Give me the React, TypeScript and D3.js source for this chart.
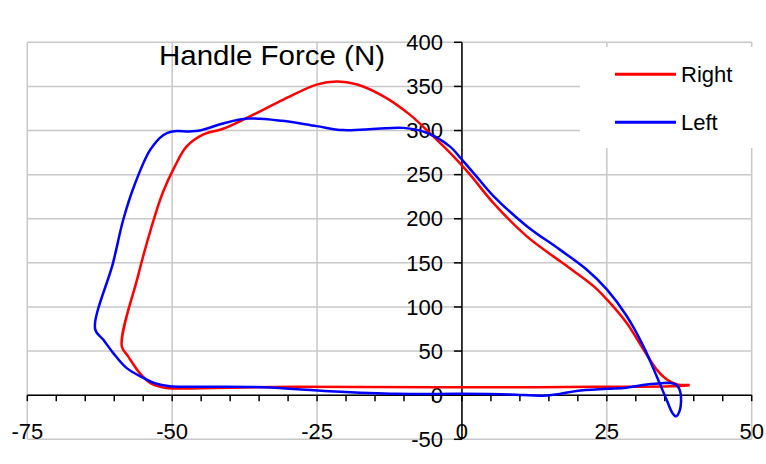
import React, { useEffect, useRef } from 'react';
import * as d3 from 'd3';

// handle position (x) vs handle force (N)
const rightCurve: [number, number][] = [
  [39.3, 11.3], [36, 10], [30, 9.5], [22.7, 9.5], [10, 9], [-4.4, 9], [-28.5, 9.5],
  [-45, 8], [-48.7, 7.5], [-51.5, 8.8], [-53.8, 14], [-55.6, 25], [-57.6, 44],
  [-58.7, 55.6], [-55.9, 135], [-53.6, 190], [-51.6, 230], [-49.5, 260], [-47.5, 282],
  [-44.6, 295.6], [-41.2, 302], [-36.6, 316], [-30.8, 335], [-25.1, 352], [-21.6, 355.7],
  [-18.2, 352.5], [-13.6, 339], [-9, 318], [-5, 293.6], [-1.5, 271], [1.4, 250],
  [5.4, 218], [11.2, 180], [16.9, 152], [22.7, 123.6], [25, 108.5], [28.4, 82],
  [31.3, 52], [33.6, 29], [35.3, 18], [37, 12.5], [39.3, 11.5],
];

const leftCurve: [number, number][] = [
  [35.5, 14], [31.9, 12], [28.4, 8.5], [25, 7.2], [19.8, 4.8], [16.9, 1.5], [14, -0.5],
  [8.3, 0.8], [0, 1.5], [-11.3, 1.5], [-22.8, 4.5], [-34.3, 9], [-45.8, 9.5], [-50.4, 10],
  [-53, 13.5], [-55, 19.7], [-57.9, 31], [-60.2, 48], [-61.9, 63], [-63.3, 75],
  [-60.2, 150], [-58.4, 200], [-56.4, 240], [-53.8, 278], [-51.5, 295], [-50, 299],
  [-47, 299], [-45.2, 300], [-41.2, 308], [-37, 313.5], [-31, 311],
  [-25.1, 305], [-20.5, 300.5], [-14.7, 302], [-10.1, 303], [-6.1, 297.5], [-2.1, 282],
  [0, 267], [2.5, 248], [5.4, 226], [11.2, 191.6], [16.9, 165], [21.5, 142.5], [25, 120],
  [28.4, 90], [31.3, 55.6], [33.6, 21.5], [35.3, -5], [36.3, -20], [36.9, -24],
  [37.6, -17], [37.7, 3], [37, 11.5], [35.5, 14],
];

const seriesNames = ['Right', 'Left'];
const seriesColors = ['#ff0000', '#0000ff'];
const xTicks = [-75, -50, -25, 0, 25, 50];
const yTicks = [-50, 0, 50, 100, 150, 200, 250, 300, 350, 400];

const App = () => {
  const svgRef = useRef<SVGSVGElement>(null);

  useEffect(() => {
    const svg = d3.select(svgRef.current);
    svg.selectAll('*').remove();

    const width = 766;
    const height = 464;
    const font = '"Liberation Sans", Arial, sans-serif';

    svg.attr('width', width).attr('height', height);

    const x = d3.scaleLinear().domain([-75, 50]).range([27.3, 751.7]);
    const y = d3.scaleLinear().domain([-50, 400]).range([439.3, 42.3]);

    const grid = svg.append('g');
    grid.selectAll('.hgrid')
      .data(yTicks)
      .enter().append('line')
      .attr('x1', x(-75)).attr('x2', x(50))
      .attr('y1', d => y(d)).attr('y2', d => y(d))
      .attr('stroke', '#c8c8c8').attr('stroke-width', 1.5);
    grid.selectAll('.vgrid')
      .data(xTicks)
      .enter().append('line')
      .attr('x1', d => x(d)).attr('x2', d => x(d))
      .attr('y1', y(400)).attr('y2', y(-50))
      .attr('stroke', '#c8c8c8').attr('stroke-width', 1.5);

    // legend box hides the grid behind it
    svg.append('rect')
      .attr('x', 580).attr('y', 47)
      .attr('width', 180).attr('height', 101)
      .attr('fill', 'white');

    // x axis at force = 0, minor ticks every 5
    const xa = svg.append('g');
    xa.append('line')
      .attr('x1', x(-75)).attr('x2', x(50))
      .attr('y1', y(0)).attr('y2', y(0))
      .attr('stroke', 'black').attr('stroke-width', 1.5);
    xa.selectAll('.tick')
      .data(d3.range(-75, 51, 5))
      .enter().append('line')
      .attr('x1', d => x(d)).attr('x2', d => x(d))
      .attr('y1', y(0)).attr('y2', y(0) + 6)
      .attr('stroke', 'black').attr('stroke-width', 1.5);

    // y axis at position = 0
    const ya = svg.append('g');
    ya.append('line')
      .attr('x1', x(0)).attr('x2', x(0))
      .attr('y1', y(400)).attr('y2', y(-50))
      .attr('stroke', 'black').attr('stroke-width', 1.5);
    ya.selectAll('.tick')
      .data(yTicks)
      .enter().append('line')
      .attr('x1', x(0) - 8).attr('x2', x(0))
      .attr('y1', d => y(d)).attr('y2', d => y(d))
      .attr('stroke', 'black').attr('stroke-width', 1.5);

    const line = d3.line<[number, number]>()
      .x(d => x(d[0]))
      .y(d => y(d[1]))
      .curve(d3.curveCatmullRom.alpha(0.5));

    [rightCurve, leftCurve].forEach((data, i) => {
      svg.append('path')
        .attr('d', line(data))
        .attr('fill', 'none')
        .attr('stroke', seriesColors[i])
        .attr('stroke-width', 2.5)
        .attr('stroke-linejoin', 'round');
    });

    ya.selectAll('.label')
      .data(yTicks)
      .enter().append('text')
      .attr('x', x(0) - 19)
      .attr('y', d => y(d))
      .attr('dy', '0.35em')
      .attr('text-anchor', 'end')
      .style('font-family', font)
      .style('font-size', '22px')
      .text(d => d);

    xa.selectAll('.label')
      .data(xTicks)
      .enter().append('text')
      .attr('x', d => x(d))
      .attr('y', 439)
      .attr('text-anchor', 'middle')
      .style('font-family', font)
      .style('font-size', '22px')
      .text(d => d);

    svg.append('text')
      .attr('x', 159)
      .attr('y', 64.5)
      .attr('textLength', 226)
      .attr('lengthAdjust', 'spacingAndGlyphs')
      .style('font-family', font)
      .style('font-size', '28px')
      .text('Handle Force (N)');

    const legend = svg.append('g');
    const items = legend.selectAll('.legend-item')
      .data(seriesNames)
      .enter().append('g')
      .attr('transform', (d, i) => `translate(0, ${74.3 + i * 48})`);
    items.append('line')
      .attr('x1', 615).attr('x2', 676)
      .attr('y1', 0).attr('y2', 0)
      .attr('stroke', (d, i) => seriesColors[i])
      .attr('stroke-width', 3);
    items.append('text')
      .attr('x', 681)
      .attr('y', 0)
      .attr('dy', '0.36em')
      .style('font-family', font)
      .style('font-size', '22px')
      .text(d => d);
  }, []);

  return (
    <svg ref={svgRef} style={{ position: 'absolute', left: 0, top: 0, background: 'white' }} />
  );
};

export default App;
